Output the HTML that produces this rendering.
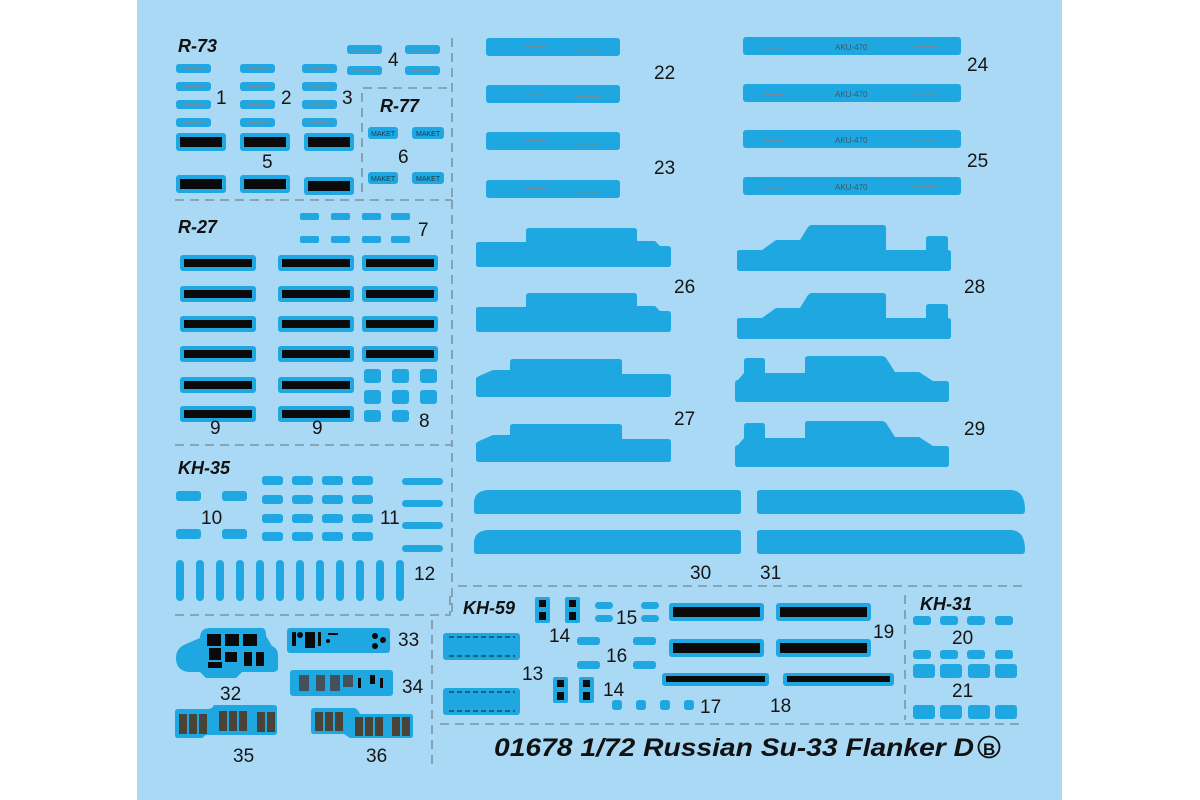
<!DOCTYPE html>
<html><head><meta charset="utf-8"><style>
html,body{margin:0;padding:0;background:#fff;width:1200px;height:800px;overflow:hidden}
svg{display:block}
text{font-family:"Liberation Sans",sans-serif}
.n{font-size:19px;fill:#151515}
.h{font-size:18px;font-weight:bold;font-style:italic;fill:#111}
.d{fill:#1ea7e1}
.k{fill:#0a0a0a}
.ds{stroke:#7b95a4;stroke-width:1.6;stroke-dasharray:9 6;fill:none}
.t{fill:#6a8fa0}
</style></head><body>
<svg width="1200" height="800" viewBox="0 0 1200 800">
<defs>
<g id="bar"><rect x="0" y="0" width="50" height="18" rx="3" class="d"/><rect x="4" y="4" width="42" height="10" class="k"/></g>
<g id="bar9"><rect x="0" y="0" width="76" height="16" rx="3" class="d"/><rect x="4" y="4" width="68" height="8" class="k"/></g>
<g id="p35"><rect width="35" height="9" rx="3" class="d"/><rect x="7" y="4" width="21" height="1.5" class="t"/></g>
<g id="lr"><rect width="134" height="18" rx="3" class="d"/><rect x="40" y="8" width="20" height="1.5" class="t"/><rect x="90" y="11" width="25" height="1.5" class="t"/></g>
<g id="lr2"><rect width="218" height="18" rx="3" class="d"/><text x="92" y="13" font-size="8" fill="#3a5a6a">AKU-470</text><rect x="20" y="10" width="20" height="1.5" class="t"/><rect x="170" y="9" width="25" height="1.5" class="t"/></g>
<path id="s26" class="d" d="M479,242 h47 v-11 q0,-3 3,-3 h105 q3,0 3,3 v10 h18 l5,5 h8 q3,0 3,3 v15 q0,3 -3,3 h-189 q-3,0 -3,-3 v-20 q0,-2 3,-2z"/>
<path id="s27" class="d" d="M479,376 l14,-6 h17 v-8 q0,-3 3,-3 h106 q3,0 3,3 v12 h46 q3,0 3,3 v17 q0,3 -3,3 h-189 q-3,0 -3,-3 v-16z"/>
<path id="s28" class="d" d="M740,250 h22 l14,-10 h24 l8,-13 q2,-2 4,-2 h71 q3,0 3,3 v22 h40 v-11 q0,-3 3,-3 h16 q3,0 3,3 v11 q3,0 3,3 v15 q0,3 -3,3 h-208 q-3,0 -3,-3 v-16 q0,-2 3,-2z"/>
<path id="s29" class="d" d="M744,373 v-12 q0,-3 3,-3 h15 q3,0 3,3 v12 h40 v-14 q0,-3 3,-3 h74 q2,0 4,2 l9,14 h24 l14,9 h13 q3,0 3,3 v15 q0,3 -3,3 h-208 q-3,0 -3,-3 v-16 q0,-3 3,-3z"/>
<path id="s30" class="d" d="M474,503 q0,-12 14,-13 h250 q3,0 3,3 v18 q0,3 -3,3 h-261 q-3,0 -3,-3z"/>
<path id="s31" class="d" d="M757,493 q0,-3 3,-3 h250 q15,0 15,20 q0,4 -3,4 h-262 q-3,0 -3,-3z"/>
</defs>
<rect x="137" y="0" width="925" height="800" fill="#a9d9f5"/>

<path class="ds" d="M452,38 V200 M175,200 H452 M362,192 V88 H452 M452,200 V445 M175,445 H452 V612 M175,615 H450 V590 M458,586 H1025 M432,620 V770 M440,724 H1025 M905,595 V720"/>

<text x="178" y="52" class="h">R-73</text>
<use href="#p35" x="176" y="64"/><use href="#p35" x="176" y="82"/><use href="#p35" x="176" y="100"/><use href="#p35" x="176" y="118"/>
<use href="#p35" x="240" y="64"/><use href="#p35" x="240" y="82"/><use href="#p35" x="240" y="100"/><use href="#p35" x="240" y="118"/>
<use href="#p35" x="302" y="64"/><use href="#p35" x="302" y="82"/><use href="#p35" x="302" y="100"/><use href="#p35" x="302" y="118"/>
<use href="#p35" x="347" y="45"/><use href="#p35" x="405" y="45"/><use href="#p35" x="347" y="66"/><use href="#p35" x="405" y="66"/>
<text x="216" y="104" class="n">1</text><text x="281" y="104" class="n">2</text><text x="342" y="104" class="n">3</text><text x="388" y="66" class="n">4</text>
<use href="#bar" x="176" y="133"/><use href="#bar" x="240" y="133"/><use href="#bar" x="304" y="133"/>
<use href="#bar" x="176" y="175"/><use href="#bar" x="240" y="175"/><use href="#bar" x="304" y="177"/>
<text x="262" y="168" class="n">5</text>
<text x="380" y="112" class="h">R-77</text>
<g font-size="7" fill="#1a3a4a">
<rect x="368" y="127" width="30" height="12" rx="3" class="d"/><text x="371" y="136">MAKET</text>
<rect x="412" y="127" width="32" height="12" rx="3" class="d"/><text x="416" y="136">MAKET</text>
<rect x="368" y="172" width="30" height="12" rx="3" class="d"/><text x="371" y="181">MAKET</text>
<rect x="412" y="172" width="32" height="12" rx="3" class="d"/><text x="416" y="181">MAKET</text>
</g>
<text x="398" y="163" class="n">6</text>

<text x="178" y="233" class="h">R-27</text>
<g class="d">
<rect x="300" y="213" width="19" height="7" rx="2"/><rect x="331" y="213" width="19" height="7" rx="2"/><rect x="362" y="213" width="19" height="7" rx="2"/><rect x="391" y="213" width="19" height="7" rx="2"/>
<rect x="300" y="236" width="19" height="7" rx="2"/><rect x="331" y="236" width="19" height="7" rx="2"/><rect x="362" y="236" width="19" height="7" rx="2"/><rect x="391" y="236" width="19" height="7" rx="2"/>
</g>
<text x="418" y="236" class="n">7</text>
<use href="#bar9" x="180" y="255"/><use href="#bar9" x="180" y="286"/><use href="#bar9" x="180" y="316"/><use href="#bar9" x="180" y="346"/><use href="#bar9" x="180" y="377"/><use href="#bar9" x="180" y="406"/>
<use href="#bar9" x="278" y="255"/><use href="#bar9" x="278" y="286"/><use href="#bar9" x="278" y="316"/><use href="#bar9" x="278" y="346"/><use href="#bar9" x="278" y="377"/><use href="#bar9" x="278" y="406"/>
<use href="#bar9" x="362" y="255"/><use href="#bar9" x="362" y="286"/><use href="#bar9" x="362" y="316"/><use href="#bar9" x="362" y="346"/>
<g class="d">
<rect x="364" y="369" width="17" height="14" rx="3"/><rect x="392" y="369" width="17" height="14" rx="3"/><rect x="420" y="369" width="17" height="14" rx="3"/>
<rect x="364" y="390" width="17" height="14" rx="3"/><rect x="392" y="390" width="17" height="14" rx="3"/><rect x="420" y="390" width="17" height="14" rx="3"/>
<rect x="364" y="410" width="17" height="12" rx="3"/><rect x="392" y="410" width="17" height="12" rx="3"/>
</g>
<text x="210" y="434" class="n">9</text><text x="312" y="434" class="n">9</text><text x="419" y="427" class="n">8</text>

<text x="178" y="474" class="h">KH-35</text>
<g class="d">
<rect x="176" y="491" width="25" height="10" rx="3"/><rect x="222" y="491" width="25" height="10" rx="3"/>
<rect x="176" y="529" width="25" height="10" rx="3"/><rect x="222" y="529" width="25" height="10" rx="3"/>
</g>
<text x="201" y="524" class="n">10</text>
<g class="d">
<rect x="262" y="476" width="21" height="9" rx="3"/><rect x="292" y="476" width="21" height="9" rx="3"/><rect x="322" y="476" width="21" height="9" rx="3"/><rect x="352" y="476" width="21" height="9" rx="3"/>
<rect x="262" y="495" width="21" height="9" rx="3"/><rect x="292" y="495" width="21" height="9" rx="3"/><rect x="322" y="495" width="21" height="9" rx="3"/><rect x="352" y="495" width="21" height="9" rx="3"/>
<rect x="262" y="514" width="21" height="9" rx="3"/><rect x="292" y="514" width="21" height="9" rx="3"/><rect x="322" y="514" width="21" height="9" rx="3"/><rect x="352" y="514" width="21" height="9" rx="3"/>
<rect x="262" y="532" width="21" height="9" rx="3"/><rect x="292" y="532" width="21" height="9" rx="3"/><rect x="322" y="532" width="21" height="9" rx="3"/><rect x="352" y="532" width="21" height="9" rx="3"/>
<rect x="402" y="478" width="41" height="7" rx="3.5"/><rect x="402" y="500" width="41" height="7" rx="3.5"/><rect x="402" y="522" width="41" height="7" rx="3.5"/><rect x="402" y="545" width="41" height="7" rx="3.5"/>
</g>
<text x="380" y="524" class="n">11</text>
<g class="d">
<rect x="176" y="560" width="8" height="41" rx="4"/><rect x="196" y="560" width="8" height="41" rx="4"/><rect x="216" y="560" width="8" height="41" rx="4"/><rect x="236" y="560" width="8" height="41" rx="4"/>
<rect x="256" y="560" width="8" height="41" rx="4"/><rect x="276" y="560" width="8" height="41" rx="4"/><rect x="296" y="560" width="8" height="41" rx="4"/><rect x="316" y="560" width="8" height="41" rx="4"/>
<rect x="336" y="560" width="8" height="41" rx="4"/><rect x="356" y="560" width="8" height="41" rx="4"/><rect x="376" y="560" width="8" height="41" rx="4"/><rect x="396" y="560" width="8" height="41" rx="4"/>
</g>
<text x="414" y="580" class="n">12</text>

<path class="d" d="M200,638 q0,-10 10,-10 h52 q4,0 4,8 l6,10 q6,2 6,10 v12 q0,4 -6,4 h-30 l-6,6 h-30 l-6,-6 h-12 q-12,-2 -12,-14 q0,-10 10,-14z"/>
<g class="k"><rect x="207" y="634" width="14" height="12"/><rect x="225" y="634" width="14" height="12"/><rect x="243" y="634" width="14" height="12"/><rect x="209" y="648" width="12" height="12"/><rect x="225" y="652" width="12" height="10"/><rect x="244" y="652" width="8" height="14"/><rect x="256" y="652" width="8" height="14"/><rect x="208" y="662" width="14" height="6"/></g>
<text x="220" y="700" class="n">32</text>
<rect x="287" y="628" width="103" height="25" rx="3" class="d"/>
<g class="k"><rect x="292" y="632" width="4" height="14"/><circle cx="300" cy="635" r="3"/><rect x="305" y="632" width="10" height="16"/><rect x="318" y="632" width="3" height="14"/><rect x="328" y="633" width="10" height="2"/><circle cx="328" cy="641" r="2"/><circle cx="375" cy="636" r="3"/><circle cx="383" cy="640" r="3"/><circle cx="375" cy="646" r="3"/></g>
<text x="398" y="646" class="n">33</text>
<rect x="290" y="670" width="103" height="26" rx="3" class="d"/>
<g fill="#44505a"><rect x="299" y="675" width="10" height="16"/><rect x="316" y="675" width="9" height="16"/><rect x="330" y="675" width="10" height="16"/><rect x="343" y="675" width="10" height="12"/></g>
<g class="k"><rect x="370" y="675" width="5" height="9"/><rect x="358" y="678" width="3" height="10"/><rect x="380" y="678" width="3" height="10"/></g>
<text x="402" y="693" class="n">34</text>
<path class="d" d="M175,712 q0,-3 3,-3 h30 q4,0 6,-4 h60 q3,0 3,3 v24 q0,3 -3,3 h-68 l-4,3 h-24 q-3,0 -3,-3z"/>
<g fill="#4a4438"><rect x="179" y="714" width="8" height="20"/><rect x="189" y="714" width="8" height="20"/><rect x="199" y="714" width="8" height="20"/><rect x="219" y="711" width="8" height="20"/><rect x="229" y="711" width="8" height="20"/><rect x="239" y="711" width="8" height="20"/><rect x="257" y="712" width="8" height="20"/><rect x="267" y="712" width="8" height="20"/></g>
<text x="233" y="762" class="n">35</text>
<path class="d" d="M311,711 q0,-3 3,-3 h40 q3,0 6,6 h50 q3,0 3,3 v18 q0,3 -3,3 h-60 l-6,-4 h-30 q-3,0 -3,-3z"/>
<g fill="#4a4438"><rect x="315" y="712" width="8" height="19"/><rect x="325" y="712" width="8" height="19"/><rect x="335" y="712" width="8" height="19"/><rect x="355" y="717" width="8" height="19"/><rect x="365" y="717" width="8" height="19"/><rect x="375" y="717" width="8" height="19"/><rect x="392" y="717" width="8" height="19"/><rect x="402" y="717" width="8" height="19"/></g>
<text x="366" y="762" class="n">36</text>

<text x="463" y="614" class="h">KH-59</text>
<g class="d"><rect x="535" y="597" width="15" height="26" rx="2"/><rect x="565" y="597" width="15" height="26" rx="2"/><rect x="553" y="677" width="15" height="26" rx="2"/><rect x="579" y="677" width="15" height="26" rx="2"/></g>
<g class="k"><rect x="539" y="600" width="7" height="7"/><rect x="539" y="612" width="7" height="8"/><rect x="569" y="600" width="7" height="7"/><rect x="569" y="612" width="7" height="8"/><rect x="557" y="680" width="7" height="7"/><rect x="557" y="692" width="7" height="8"/><rect x="583" y="680" width="7" height="7"/><rect x="583" y="692" width="7" height="8"/></g>
<text x="549" y="642" class="n">14</text><text x="603" y="696" class="n">14</text>
<g class="d"><rect x="595" y="602" width="18" height="7" rx="3.5"/><rect x="595" y="615" width="18" height="7" rx="3.5"/><rect x="641" y="602" width="18" height="7" rx="3.5"/><rect x="641" y="615" width="18" height="7" rx="3.5"/>
<rect x="577" y="637" width="23" height="8" rx="3"/><rect x="577" y="661" width="23" height="8" rx="3"/><rect x="633" y="637" width="23" height="8" rx="3"/><rect x="633" y="661" width="23" height="8" rx="3"/>
<rect x="612" y="700" width="10" height="10" rx="3"/><rect x="636" y="700" width="10" height="10" rx="3"/><rect x="660" y="700" width="10" height="10" rx="3"/><rect x="684" y="700" width="10" height="10" rx="3"/></g>
<text x="616" y="624" class="n">15</text><text x="606" y="662" class="n">16</text><text x="700" y="713" class="n">17</text>
<rect x="443" y="633" width="77" height="27" rx="3" class="d"/><rect x="443" y="688" width="77" height="27" rx="3" class="d"/>
<path d="M449,637 H515 M449,656 H515 M449,692 H515 M449,711 H515" stroke="#1a4a62" stroke-width="1.5" stroke-dasharray="5 3"/>
<text x="522" y="680" class="n">13</text>
<rect x="669" y="603" width="95" height="18" rx="3" class="d"/><rect x="673" y="607" width="87" height="10" class="k"/>
<rect x="776" y="603" width="95" height="18" rx="3" class="d"/><rect x="780" y="607" width="87" height="10" class="k"/>
<rect x="669" y="639" width="95" height="18" rx="3" class="d"/><rect x="673" y="643" width="87" height="10" class="k"/>
<rect x="776" y="639" width="95" height="18" rx="3" class="d"/><rect x="780" y="643" width="87" height="10" class="k"/>
<text x="873" y="638" class="n">19</text>
<rect x="662" y="673" width="107" height="13" rx="3" class="d"/><rect x="666" y="676" width="99" height="6" class="k"/>
<rect x="783" y="673" width="111" height="13" rx="3" class="d"/><rect x="787" y="676" width="103" height="6" class="k"/>
<text x="770" y="712" class="n">18</text>
<text x="920" y="610" class="h">KH-31</text>
<g class="d"><rect x="913" y="616" width="18" height="9" rx="3"/><rect x="940" y="616" width="18" height="9" rx="3"/><rect x="967" y="616" width="18" height="9" rx="3"/><rect x="995" y="616" width="18" height="9" rx="3"/>
<rect x="913" y="650" width="18" height="9" rx="3"/><rect x="940" y="650" width="18" height="9" rx="3"/><rect x="967" y="650" width="18" height="9" rx="3"/><rect x="995" y="650" width="18" height="9" rx="3"/>
<rect x="913" y="664" width="22" height="14" rx="3"/><rect x="940" y="664" width="22" height="14" rx="3"/><rect x="968" y="664" width="22" height="14" rx="3"/><rect x="995" y="664" width="22" height="14" rx="3"/>
<rect x="913" y="705" width="22" height="14" rx="3"/><rect x="940" y="705" width="22" height="14" rx="3"/><rect x="968" y="705" width="22" height="14" rx="3"/><rect x="995" y="705" width="22" height="14" rx="3"/></g>
<text x="952" y="644" class="n">20</text><text x="952" y="697" class="n">21</text>

<text x="494" y="756" font-size="25" font-weight="bold" font-style="italic" fill="#111" textLength="480" lengthAdjust="spacingAndGlyphs">01678 1/72 Russian Su-33 Flanker D</text>
<circle cx="989" cy="747" r="10.5" fill="none" stroke="#111" stroke-width="1.8"/>
<text x="983" y="755" font-size="17" font-weight="bold" fill="#111">B</text>

<use href="#lr" x="486" y="38"/><use href="#lr" x="486" y="85"/><use href="#lr" x="486" y="132"/><use href="#lr" x="486" y="180"/>
<text x="654" y="79" class="n">22</text><text x="654" y="174" class="n">23</text>
<use href="#lr2" x="743" y="37"/><use href="#lr2" x="743" y="84"/><use href="#lr2" x="743" y="130"/><use href="#lr2" x="743" y="177"/>
<text x="967" y="71" class="n">24</text><text x="967" y="167" class="n">25</text>
<use href="#s26"/><use href="#s26" y="65"/>
<use href="#s27"/><use href="#s27" y="65"/>
<use href="#s28"/><use href="#s28" y="68"/>
<use href="#s29"/><use href="#s29" y="65"/>
<text x="674" y="293" class="n">26</text><text x="674" y="425" class="n">27</text>
<text x="964" y="293" class="n">28</text><text x="964" y="435" class="n">29</text>
<use href="#s30"/><use href="#s30" y="40"/>
<use href="#s31"/><use href="#s31" y="40"/>
<text x="690" y="579" class="n">30</text><text x="760" y="579" class="n">31</text>
</svg>
</body></html>
